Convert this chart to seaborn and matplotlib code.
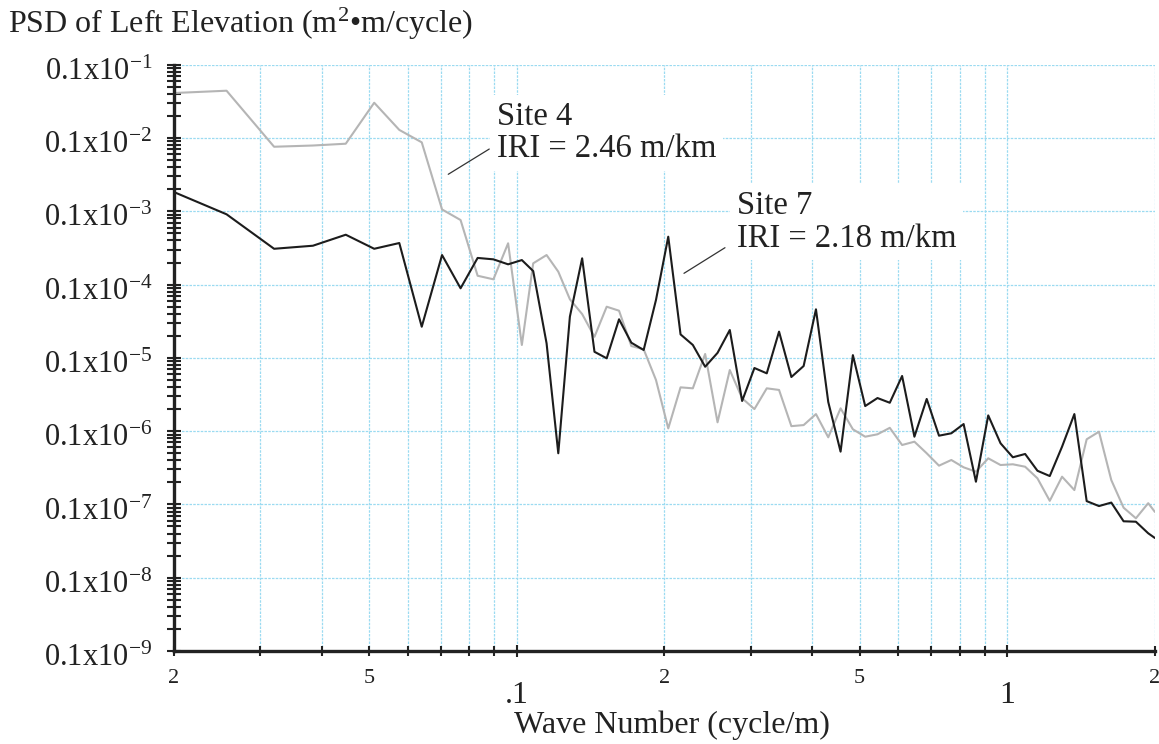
import numpy as np
import pandas as pd
import matplotlib
matplotlib.use("Agg")
import matplotlib.pyplot as plt
import matplotlib.ticker as mticker
import matplotlib.transforms as mtransforms
import seaborn as sns

# ---------------- data ----------------
wave_number = [0.0200, 0.0256, 0.0320, 0.0384, 0.0448, 0.0512, 0.0576, 0.0640,
               0.0704, 0.0768, 0.0832, 0.0896, 0.0960, 0.1024, 0.1080, 0.1150,
               0.1215, 0.1283, 0.1359, 0.1440, 0.1525, 0.1616, 0.1712, 0.1814,
               0.1922, 0.2036, 0.2157, 0.2285, 0.2421, 0.2566, 0.2718, 0.2880,
               0.3051, 0.3233, 0.3425, 0.3629, 0.3844, 0.4073, 0.4315, 0.4572,
               0.4844, 0.5132, 0.5437, 0.5760, 0.6103, 0.6466, 0.6850, 0.7257,
               0.7689, 0.8146, 0.8631, 0.9144, 0.9688, 1.0264, 1.0874, 1.1521,
               1.2206, 1.2932, 1.3701, 1.4516, 1.5379, 1.6294, 1.7263, 1.8289,
               1.9377, 2.0000]

psd_site7 = [1.83e-4, 9.1e-5, 3.08e-5, 3.39e-5, 4.79e-5, 3.08e-5, 3.69e-5, 2.66e-6,
             2.53e-5, 8.9e-6, 2.31e-5, 2.21e-5, 1.89e-5, 2.16e-5, 1.53e-5, 1.58e-6,
             4.99e-8, 3.65e-6, 2.28e-5, 1.21e-6, 9.86e-7, 3.36e-6, 1.61e-6, 1.28e-6,
             6.17e-6, 4.50e-5, 2.09e-6, 1.50e-6, 7.57e-7, 1.17e-6, 2.40e-6, 2.58e-7,
             7.27e-7, 6.15e-7, 2.28e-6, 5.48e-7, 7.74e-7, 4.60e-6, 2.50e-7, 5.25e-8,
             1.09e-6, 2.20e-7, 2.83e-7, 2.44e-7, 5.66e-7, 8.4e-8, 2.75e-7, 8.67e-8,
             9.35e-8, 1.25e-7, 2.04e-8, 1.64e-7, 6.83e-8, 4.40e-8, 4.88e-8, 2.88e-8,
             2.44e-8, 6.14e-8, 1.71e-7, 1.11e-8, 9.5e-9, 1.06e-8, 5.89e-9, 5.81e-9,
             4.04e-9, 3.48e-9]

psd_site4 = [4.11e-3, 4.42e-3, 7.60e-4, 7.9e-4, 8.36e-4, 3.03e-3, 1.29e-3, 8.73e-4,
             1.06e-4, 7.6e-5, 1.32e-5, 1.18e-5, 3.66e-5, 1.50e-6, 1.95e-5, 2.53e-5,
             1.50e-5, 6.3e-6, 3.96e-6, 1.94e-6, 4.99e-6, 4.40e-6, 1.45e-6, 1.31e-6,
             4.99e-7, 1.09e-7, 3.96e-7, 3.84e-7, 1.13e-6, 1.32e-7, 6.82e-7, 2.81e-7,
             2.0e-7, 3.84e-7, 3.65e-7, 1.17e-7, 1.21e-7, 1.71e-7, 8.24e-8, 2.05e-7,
             1.06e-7, 8.4e-8, 9.06e-8, 1.11e-7, 6.47e-8, 7.18e-8, 4.99e-8, 3.38e-8,
             4.04e-8, 3.21e-8, 2.80e-8, 4.26e-8, 3.45e-8, 3.53e-8, 3.27e-8, 2.27e-8,
             1.12e-8, 2.39e-8, 1.57e-8, 7.74e-8, 9.82e-8, 2.15e-8, 9.03e-9, 6.47e-9,
             1.04e-8, 7.9e-9]

site_names = ["Site 4", "Site 7"]
site_notes = ["Site 4\nIRI = 2.46 m/km", "Site 7\nIRI = 2.18 m/km"]

x_major_ticks = [0.1, 1.0]
x_major_labels = [".1", "1"]
x_minor_ticks = [0.02, 0.03, 0.04, 0.05, 0.06, 0.07, 0.08, 0.09,
                 0.2, 0.3, 0.4, 0.5, 0.6, 0.7, 0.8, 0.9, 2.0]
x_minor_labels = ["2", "", "", "5", "", "", "", "",
                  "2", "", "", "5", "", "", "", "", "2"]
y_major_ticks = [1e-10, 1e-9, 1e-8, 1e-7, 1e-6, 1e-5, 1e-4, 1e-3, 1e-2]
y_major_labels = [r"$\mathregular{0.1x10^{-%d}}$" % k for k in [9, 8, 7, 6, 5, 4, 3, 2, 1]]

x_title = "Wave Number (cycle/m)"
y_title = "PSD of Left Elevation (m$^2$\u2022m/cycle)"

# ---------------- style ----------------
sns.set_theme(style="white")
plt.rcParams["font.family"] = ["Liberation Serif", "DejaVu Serif"]
plt.rcParams["mathtext.fontset"] = "custom"
plt.rcParams["mathtext.rm"] = "Liberation Serif"
plt.rcParams["mathtext.it"] = "Liberation Serif"
plt.rcParams["mathtext.bf"] = "Liberation Serif"
plt.rcParams["mathtext.default"] = "regular"

ink = "#222222"
grid_col = "#9bdbf1"

fig = plt.figure(figsize=(11.59, 7.44), dpi=100)
fig.patch.set_facecolor("white")
ax = fig.add_axes([0.1501, 0.125, 0.8464, 0.7880])
ax.set_facecolor("white")
ax.set_xscale("log")
ax.set_yscale("log")

df = pd.DataFrame({
    "wave": wave_number * 2,
    "psd": psd_site4 + psd_site7,
    "site": [site_names[0]] * len(wave_number) + [site_names[1]] * len(wave_number),
})
sns.lineplot(data=df, x="wave", y="psd", hue="site", hue_order=site_names,
             palette={site_names[0]: "#b5b5b5", site_names[1]: "#1c1c1c"},
             estimator=None, sort=False, legend=False, linewidth=1.5, ax=ax)

ax.set_xlim(0.02, 2.0)
ax.set_ylim(1e-10, 1e-2)

# ticks
ax.xaxis.set_major_locator(mticker.FixedLocator(x_major_ticks))
ax.xaxis.set_major_formatter(mticker.FixedFormatter(x_major_labels))
ax.xaxis.set_minor_locator(mticker.FixedLocator(x_minor_ticks))
ax.xaxis.set_minor_formatter(mticker.FixedFormatter(x_minor_labels))
ax.yaxis.set_major_locator(mticker.FixedLocator(y_major_ticks))
ax.yaxis.set_major_formatter(mticker.FixedFormatter(y_major_labels))
ax.yaxis.set_minor_locator(mticker.LogLocator(base=10, subs=np.arange(2, 10), numticks=50))
ax.yaxis.set_minor_formatter(mticker.NullFormatter())

ax.tick_params(axis="y", which="both", direction="inout", length=9.5, width=1.5,
               color=ink, labelcolor=ink, labelsize=22, pad=11, left=True)
ax.tick_params(axis="x", which="minor", direction="inout", length=7.5, width=1.5,
               color=ink, labelcolor=ink, labelsize=16, pad=9, bottom=True)
ax.tick_params(axis="x", which="major", direction="inout", length=9, width=1.5,
               color=ink, labelcolor=ink, labelsize=23, pad=17, bottom=True)

# grid
ax.xaxis.grid(True, which="both", color=grid_col, linewidth=0.9, linestyle=(0, (2, 1)))
ax.yaxis.grid(True, which="major", color=grid_col, linewidth=0.9, linestyle=(0, (2, 1)))
ax.yaxis.grid(False, which="minor")
ax.set_axisbelow(True)

# spines
for side in ["top", "right"]:
    ax.spines[side].set_visible(False)
for side in ["left", "bottom"]:
    ax.spines[side].set_visible(True)
    ax.spines[side].set_linewidth(2.4)
    ax.spines[side].set_color(ink)

# nudge y tick labels slightly below their ticks, as in the reference
shift = mtransforms.ScaledTranslation(0, -4 / 100, fig.dpi_scale_trans)
for tick in ax.yaxis.get_major_ticks():
    tick.label1.set_transform(tick.label1.get_transform() + shift)

# axis titles
ax.set_xlabel(x_title, fontsize=23, color=ink)
ax.xaxis.set_label_coords(0.5076, -0.1399)
ax.xaxis.label.set_va("baseline")
ax.set_ylabel("")
fig.text(8 / 1159, 1 - 33 / 744, y_title, fontsize=23, color=ink,
         ha="left", va="baseline")

# annotations
box = dict(facecolor="white", edgecolor="none", boxstyle="square,pad=0.2")
ax.text(0.3293, 0.8840, site_notes[0], transform=ax.transAxes, ha="left",
        va="center", fontsize=23.5, color=ink, linespacing=1.1, bbox=box, zorder=5)
ax.text(0.5736, 0.7320, site_notes[1], transform=ax.transAxes, ha="left",
        va="center", fontsize=23.5, color=ink, linespacing=1.1, bbox=box, zorder=5)
ax.annotate("", xy=(0.2796, 0.8131), xytext=(0.3214, 0.8562),
            xycoords="axes fraction", textcoords="axes fraction",
            arrowprops=dict(arrowstyle="-", color="#333333", lw=0.9,
                            shrinkA=0, shrinkB=0), zorder=6)
ax.annotate("", xy=(0.5199, 0.6442), xytext=(0.5617, 0.6879),
            xycoords="axes fraction", textcoords="axes fraction",
            arrowprops=dict(arrowstyle="-", color="#333333", lw=0.9,
                            shrinkA=0, shrinkB=0), zorder=6)

fig.savefig("out.png", dpi=100, facecolor="white")
